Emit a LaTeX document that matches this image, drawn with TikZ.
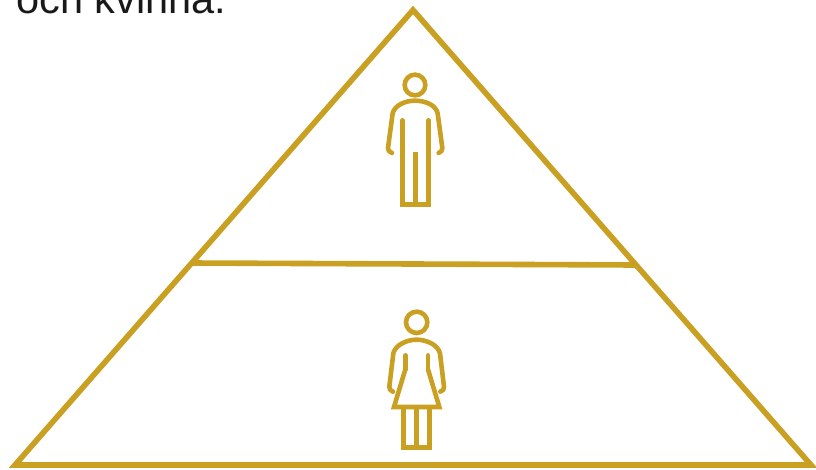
\documentclass[tikz,border=0pt]{standalone}
\usepackage{fontspec}
\setmainfont{Liberation Sans}
\definecolor{gold}{HTML}{C9A022}
\tikzset{
  frameline/.style={draw=gold,line width=5.6pt,line join=miter},
  iconline/.style={draw=gold,line width=4.6pt,line cap=round,line join=round},
  iconsquare/.style={draw=gold,line width=4.6pt,line cap=butt,line join=miter}
}
\begin{document}
\begin{tikzpicture}[x=1pt,y=-1pt]
\useasboundingbox (0,0) rectangle (816,469);
\clip (0,0) rectangle (816,469);
\node[anchor=base west,inner sep=0pt,font=\fontsize{41.5pt}{41.5pt}\selectfont,text=black!90] (caption) at (16,13.5) {och kvinna.};
\coordinate (apex) at (413,10);
\coordinate (bl) at (15,465);
\coordinate (br) at (811,465);
\coordinate (ml) at (192,263);
\coordinate (mr) at (636,265);
\draw[frameline] (apex) -- (br) -- (bl) -- cycle;
\draw[frameline] (ml) -- (mr);
% man
\begin{scope}[shift={(360,60)},x=0.3333pt,y=-0.3333pt]
\draw[iconline] (165,75) circle (31);
\draw[iconline] (96,279) .. controls (87,277) and (84,270) .. (84,264) -- (98,160) .. controls (104,136) and (135,122) .. (165,122) .. controls (197,122) and (228,136) .. (233,160) -- (247,264) .. controls (247,270) and (244,277) .. (236,279);
\draw[iconline] (127,181) -- (127,433);
\draw[iconline] (205,181) -- (205,433);
\draw[iconsquare] (120,433) -- (213,433);
\draw[iconsquare] (166,276) -- (166,433);
\end{scope}
% woman
\begin{scope}[shift={(360,300)},x=0.3333pt,y=-0.3333pt]
\draw[iconline] (170,67) circle (32);
\draw[iconline] (99,275) .. controls (91,273) and (87,267) .. (88,260) -- (100,160) .. controls (106,135) and (140,119) .. (170,119) .. controls (200,119) and (234,135) .. (240,160) -- (252,260) .. controls (253,267) and (249,273) .. (241,275);
\draw[iconline] (136,166) -- (136,208);
\draw[iconline] (204,166) -- (204,208);
\draw[iconsquare] (136,208) -- (102,321) -- (238,321) -- (204,208);
\draw[iconsquare] (131,321) -- (131,443) -- (209,443) -- (209,321);
\draw[iconsquare] (170,321) -- (170,443);
\end{scope}
\end{tikzpicture}
\end{document}
